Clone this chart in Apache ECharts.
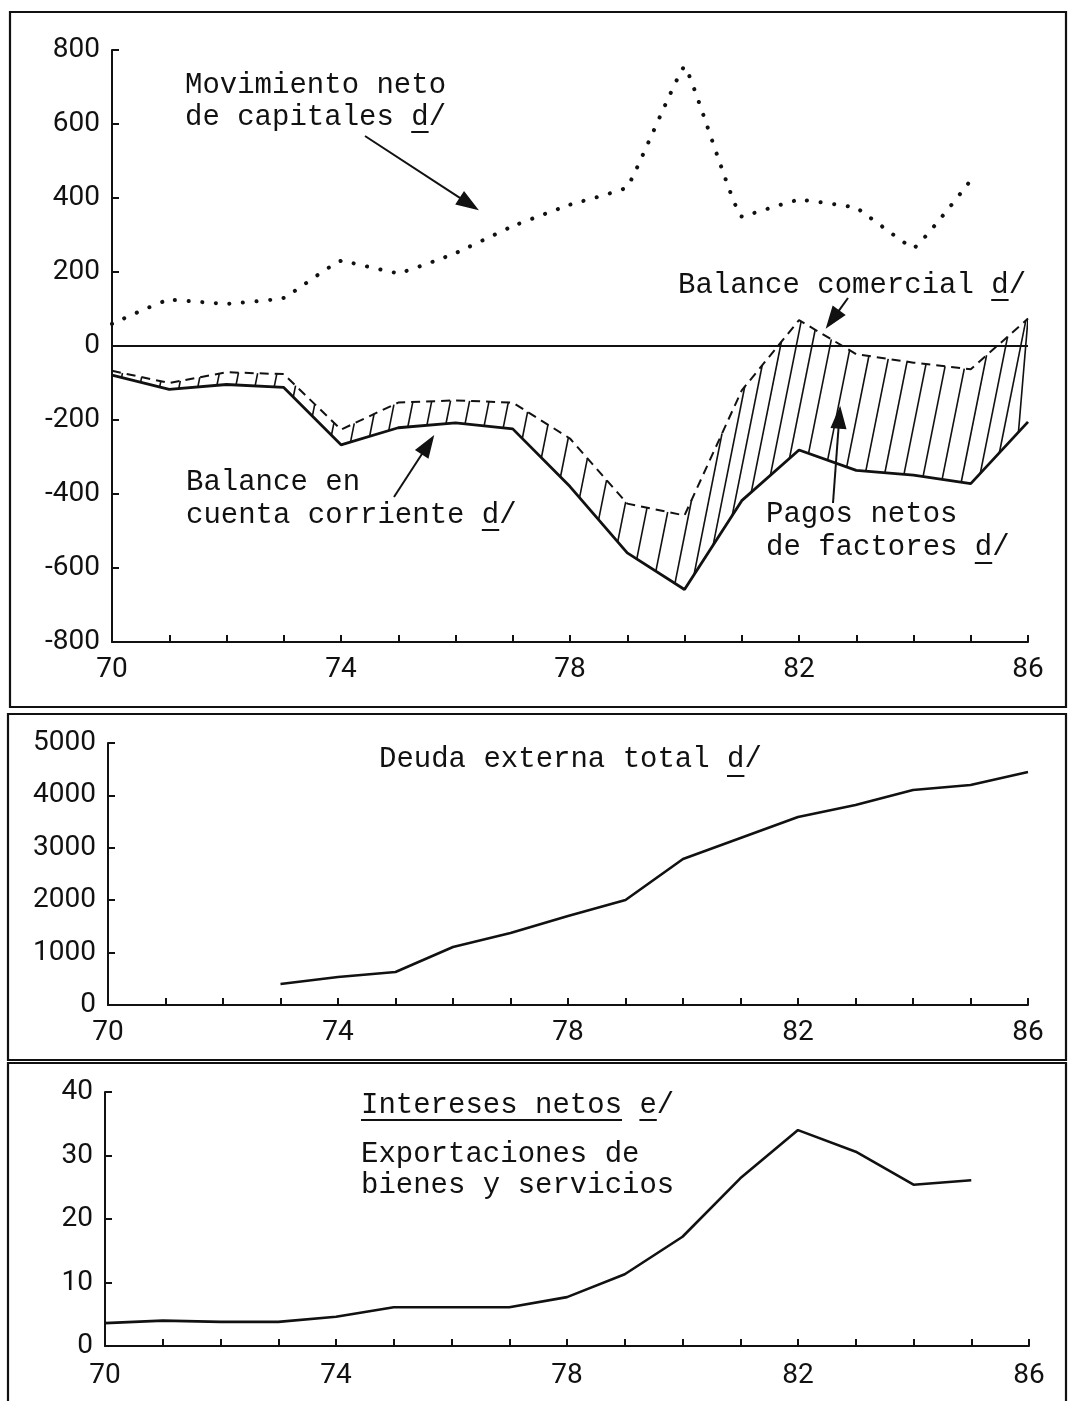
<!DOCTYPE html>
<html><head><meta charset="utf-8">
<script src="https://cdn.jsdelivr.net/npm/echarts@6/dist/echarts.min.js"></script>
<style>html,body{margin:0;padding:0;background:#fff}#c{width:1072px;height:1401px}</style>
</head><body><div id="c"></div>
<script>
// ---- data ----
const years = [70,71,72,73,74,75,76,77,78,79,80,81,82,83,84,85,86];
const xTickLabels = [70,74,78,82,86];
const capitales        = [60,125,114,130,230,197,251,324,382,430,755,350,395,373,265,448,null];
const balanceComercial = [-67,-100,-71,-76,-226,-153,-147,-153,-250,-426,-458,-120,70,-22,-45,-63,74];
const cuentaCorriente  = [-79,-117,-104,-112,-267,-221,-208,-224,-380,-559,-658,-418,-281,-336,-349,-372,-205];
const deudaExterna     = [null,null,null,400,535,630,1107,1374,1700,2004,2786,3187,3588,3817,4103,4198,4447];
const intereses        = [3.6,4.0,3.8,3.8,4.6,6.1,6.1,6.1,7.7,11.3,17.2,26.4,34,30.6,25.4,26.1,null];
const yTicks1 = [-800,-600,-400,-200,0,200,400,600,800];
const yTicks2 = [0,1000,2000,3000,4000,5000];
const yTicks3 = [0,10,20,30,40];

const INK = '#111';
const numFont = "Roboto,'Liberation Sans',sans-serif";
const monoFont = "29px 'Liberation Mono', 'DejaVu Sans Mono', monospace";

function pairs(arr){ return years.map((y,i)=>[y,arr[i]]); }
function lerp(arr,x){
  let i=Math.floor(x-years[0]);
  if(i>arr.length-2) i=arr.length-2; if(i<0) i=0;
  const t=x-years[i];
  return arr[i]+(arr[i+1]-arr[i])*t;
}

function xAxisFor(g, margin){
  return {type:'value', gridIndex:g, min:years[0], max:years[years.length-1], interval:1,
    axisLine:{show:true, onZero:false, lineStyle:{color:INK,width:2}},
    axisTick:{show:true, inside:true, length:7, lineStyle:{color:INK,width:2}},
    splitLine:{show:false},
    axisLabel:{margin:margin, color:INK, fontSize:28, fontFamily:numFont,
      formatter:v=> xTickLabels.indexOf(v)>=0 ? String(v) : ''}
  };
}
function yAxisFor(g, ticks){
  return {type:'value', gridIndex:g, min:ticks[0], max:ticks[ticks.length-1], interval:ticks[1]-ticks[0],
    axisLine:{show:true, onZero:false, lineStyle:{color:INK,width:2}},
    axisTick:{show:true, inside:true, length:7, lineStyle:{color:INK,width:2}},
    splitLine:{show:false},
    axisLabel:{margin:12, color:INK, fontSize:28, fontFamily:numFont, formatter:v=>String(v)}
  };
}

// ---- annotation graphics ----
const graphics = [];
function frame(x,y,w,h){ graphics.push({type:'rect', shape:{x,y,width:w,height:h}, style:{fill:'none', stroke:INK, lineWidth:2.2}, silent:true}); }
frame(10,12,1056,695);
frame(8,714,1058,346);
frame(8,1063,1058,340);

function text(t,x,y){ graphics.push({type:'text', x:x, y:y, style:{text:t, font:monoFont, fill:INK, textVerticalAlign:'middle'}, silent:true}); }
function uline(x1,x2,y){ graphics.push({type:'line', shape:{x1,y1:y,x2,y2:y}, style:{stroke:INK,lineWidth:2}, silent:true}); }
function arrow(x1,y1,x2,y2){
  const a=Math.atan2(y2-y1,x2-x1), L=20, W=7;
  const bx=x2-L*Math.cos(a), by=y2-L*Math.sin(a);
  const px=-Math.sin(a)*W, py=Math.cos(a)*W;
  graphics.push({type:'line', shape:{x1,y1,x2:bx,y2:by}, style:{stroke:INK,lineWidth:2}, silent:true});
  graphics.push({type:'polygon', shape:{points:[[x2,y2],[bx+px,by+py],[bx-px,by-py]]}, style:{fill:INK, stroke:INK, lineWidth:1.5}, silent:true});
}
const CW = 29*0.6;
text('Movimiento neto',185,85);
text('de capitales d/',185,117); uline(185+13*CW,185+14*CW,132);
text('Balance comercial d/',678,285); uline(678+18*CW,678+19*CW,300);
text('Balance en',186,482);
text('cuenta corriente d/',186,515); uline(186+17*CW,186+18*CW,530);
text('Pagos netos',766,514);
text('de factores d/',766,547); uline(766+12*CW,766+13*CW,563);
text('Deuda externa total d/',379,759); uline(379+20*CW,379+21*CW,776);
text('Intereses netos e/',361,1105); uline(361,361+15*CW,1120); uline(361+16*CW,361+17*CW,1120);
text('Exportaciones de',361,1154);
text('bienes y servicios',361,1185);
arrow(365,136,477,209);
arrow(848,298,827,327);
arrow(394,497,433,437);
arrow(833,503,840,408);

// ---- chart ----
const chart = echarts.init(document.getElementById('c'));
chart.setOption({
  backgroundColor:'#fff',
  animation:false,
  grid:[
    {left:112, right:44, top:50, bottom:759},
    {left:108, right:44, top:743, bottom:396},
    {left:105, right:43, top:1092, bottom:55}
  ],
  xAxis:[xAxisFor(0,14), xAxisFor(1,14), xAxisFor(2,16)],
  yAxis:[yAxisFor(0,yTicks1), yAxisFor(1,yTicks2), yAxisFor(2,yTicks3)],
  graphic: graphics,
  series:[
    {type:'custom', name:'Pagos netos de factores', xAxisIndex:0, yAxisIndex:0, clip:true, z:1,
      data: years.slice(0,-1).map((y,i)=>[y,i]),
      encode:{x:0},
      renderItem:function(params, api){
        const i = api.value(1);
        const p0 = api.coord([years[0],0]), p1 = api.coord([years[0]+1,0]);
        const ppy = p1[0]-p0[0];
        const children=[];
        for(let k=0;k<3;k++){
          const xb = years[i] + (k+0.5)/3;
          const b = api.coord([xb, lerp(cuentaCorriente,xb)]);
          let xt = xb, tp = api.coord([xt, lerp(balanceComercial,xt)]);
          for(let it=0;it<5;it++){
            xt = Math.min(years[years.length-1], xb + 0.2*(b[1]-tp[1])/ppy);
            tp = api.coord([xt, lerp(balanceComercial,xt)]);
          }
          children.push({type:'line', shape:{x1:b[0],y1:b[1],x2:tp[0],y2:tp[1]}, style:{stroke:INK, lineWidth:1.6}});
        }
        return {type:'group', children};
      }
    },
    {type:'line', name:'Movimiento neto de capitales', xAxisIndex:0, yAxisIndex:0, data:pairs(capitales),
      symbol:'none', smooth:0.08, z:3,
      lineStyle:{color:INK, width:4, type:[0.1,13.5], cap:'round'}},
    {type:'line', name:'Balance comercial', xAxisIndex:0, yAxisIndex:0, data:pairs(balanceComercial),
      symbol:'none', z:3, lineStyle:{color:INK, width:2, type:[9,6]}},
    {type:'line', name:'Balance en cuenta corriente', xAxisIndex:0, yAxisIndex:0, data:pairs(cuentaCorriente),
      symbol:'none', z:4, lineStyle:{color:INK, width:2.8},
      markLine:{silent:true, symbol:'none', label:{show:false}, lineStyle:{color:INK, width:2, type:'solid'},
        data:[{yAxis:0}]}},
    {type:'line', name:'Deuda externa total', xAxisIndex:1, yAxisIndex:1, data:pairs(deudaExterna),
      symbol:'none', z:3, lineStyle:{color:INK, width:2.6}},
    {type:'line', name:'Intereses netos', xAxisIndex:2, yAxisIndex:2, data:pairs(intereses),
      symbol:'none', z:3, lineStyle:{color:INK, width:2.6}}
  ]
});
</script></body></html>
